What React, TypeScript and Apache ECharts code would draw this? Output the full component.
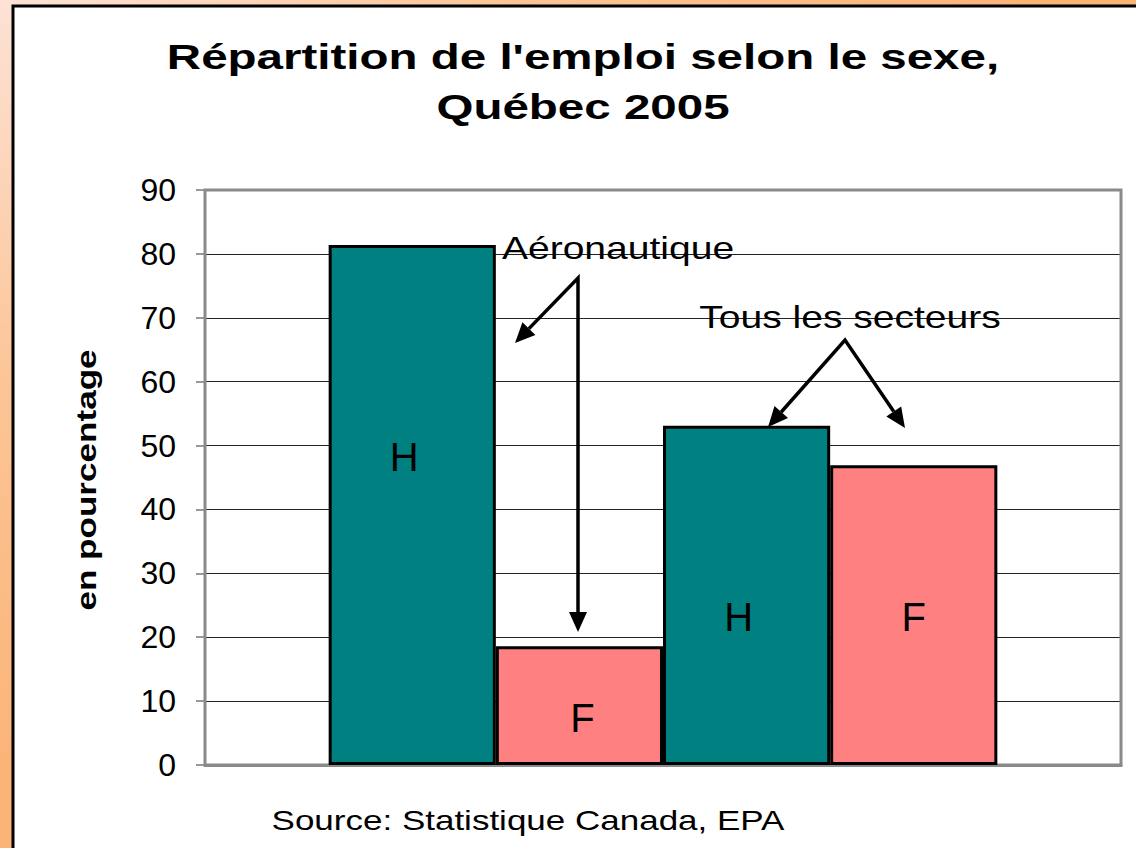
import React, { useEffect, useRef } from "react";
import * as echarts from "echarts";

const categories = [""];
const seriesNames = ["Aéronautique H", "Aéronautique F", "Tous les secteurs H", "Tous les secteurs F"];
const seriesValues = [81.4, 18.6, 53.1, 46.9];
const barLabels = ["H", "F", "H", "F"];
const barColors = ["#008080", "#FF8080", "#008080", "#FF8080"];
const labelOffsets = [[-8, -48], [3, 12], [-8, 22], [0, 2]];
const yMin = 0;
const yMax = 90;
const yInterval = 10;

const titleLine1 = "Répartition de l'emploi selon le sexe,";
const titleLine2 = "Québec 2005";
const yAxisName = "en pourcentage";
const sourceText = "Source: Statistique Canada, EPA";
const noteAero = "Aéronautique";
const noteAll = "Tous les secteurs";

const FONT = "'Liberation Sans', Arial, Helvetica, sans-serif";

function arrowHead(fx: number, fy: number, tx: number, ty: number, len = 20, w = 18) {
  const dx = tx - fx, dy = ty - fy;
  const d = Math.hypot(dx, dy);
  const ux = dx / d, uy = dy / d;
  const bx = tx - ux * len, by = ty - uy * len;
  const px = -uy, py = ux;
  return {
    base: [bx, by],
    head: {
      type: "polygon",
      z: 100,
      shape: { points: [[tx, ty], [bx + (px * w) / 2, by + (py * w) / 2], [bx - (px * w) / 2, by - (py * w) / 2]] },
      style: { fill: "#000" },
    },
  };
}

function twoArrows(ax: number, ay: number, t1: number[], t2: number[]) {
  const a1 = arrowHead(ax, ay, t1[0], t1[1]);
  const a2 = arrowHead(ax, ay, t2[0], t2[1]);
  return [
    {
      type: "polyline",
      z: 100,
      shape: { points: [a1.base, [ax, ay], a2.base] },
      style: { stroke: "#000", lineWidth: 3.5, fill: null, lineJoin: "miter" },
    },
    a1.head,
    a2.head,
  ];
}

function textEl(text: string, x: number, y: number, size: number, bold: boolean, scaleX: number, rotation = 0) {
  return {
    type: "text",
    z: 100,
    x,
    y,
    rotation,
    scaleX,
    style: {
      text,
      fill: "#000",
      font: `${bold ? "bold " : ""}${size}px ${FONT}`,
      textAlign: "center",
      textVerticalAlign: "middle",
    },
  };
}

export default function App() {
  const ref = useRef<HTMLDivElement>(null);
  useEffect(() => {
    if (!ref.current) return;
    const chart = echarts.init(ref.current, undefined, { renderer: "svg" });
    const option: any = {
      animation: false,
      backgroundColor: new echarts.graphic.RadialGradient(0, 0, 0.9, [
        { offset: 0, color: "#fde2d6" },
        { offset: 0.5, color: "#fcc596" },
        { offset: 1, color: "#fbb478" },
      ]),
      grid: {
        left: 205,
        right: 15,
        top: 190,
        bottom: 83,
        show: true,
        borderColor: "#8a8a8a",
        borderWidth: 3,
        backgroundColor: "transparent",
        z: 1,
      },
      xAxis: {
        type: "category",
        data: categories,
        axisLine: { show: true, lineStyle: { color: "#8a8a8a", width: 3 } },
        axisTick: { show: false },
        axisLabel: { show: false },
        splitLine: { show: false },
      },
      yAxis: {
        type: "value",
        min: yMin,
        max: yMax,
        interval: yInterval,
        axisLine: { show: true, lineStyle: { color: "#777", width: 2 } },
        axisTick: { show: true, length: 9, lineStyle: { color: "#777", width: 1.5 } },
        axisLabel: { margin: 29, fontSize: 32, color: "#000", fontFamily: FONT },
        splitLine: { show: true, showMinLine: false, showMaxLine: false, lineStyle: { color: "#222", width: 1 } },
      },
      series: seriesValues.map((v, i) => ({
        name: seriesNames[i],
        type: "bar",
        data: [v],
        barGap: "0%",
        barCategoryGap: "27%",
        itemStyle: { color: barColors[i], borderColor: "#000", borderWidth: 3 },
        label: {
          show: true,
          position: "inside",
          formatter: barLabels[i],
          fontSize: 40,
          color: "#000",
          fontFamily: FONT,
          offset: labelOffsets[i],
        },
        z: 3,
      })),
      graphic: {
        elements: [
          {
            type: "rect",
            z: -100,
            shape: { x: 13, y: 6, width: 1200, height: 900 },
            style: { fill: "#fff", stroke: "#000", lineWidth: 3 },
          },
          textEl(titleLine1, 583, 57, 36, true, 1.32),
          textEl(titleLine2, 583, 107, 36, true, 1.32),
          textEl(yAxisName, 87, 480, 27, true, 1.3, Math.PI / 2),
          textEl(sourceText, 528, 820, 28, false, 1.25),
          textEl(noteAero, 618, 248, 32, false, 1.22),
          textEl(noteAll, 850, 317, 32, false, 1.22),
          ...twoArrows(578, 278, [515, 343], [578, 632]),
          ...twoArrows(845, 340, [768, 427], [905, 428]),
        ],
      },
    };
    chart.setOption(option);
    return () => chart.dispose();
  }, []);
  return <div ref={ref} style={{ position: "absolute", left: 0, top: 0, width: 1136, height: 848 }} />;
}
